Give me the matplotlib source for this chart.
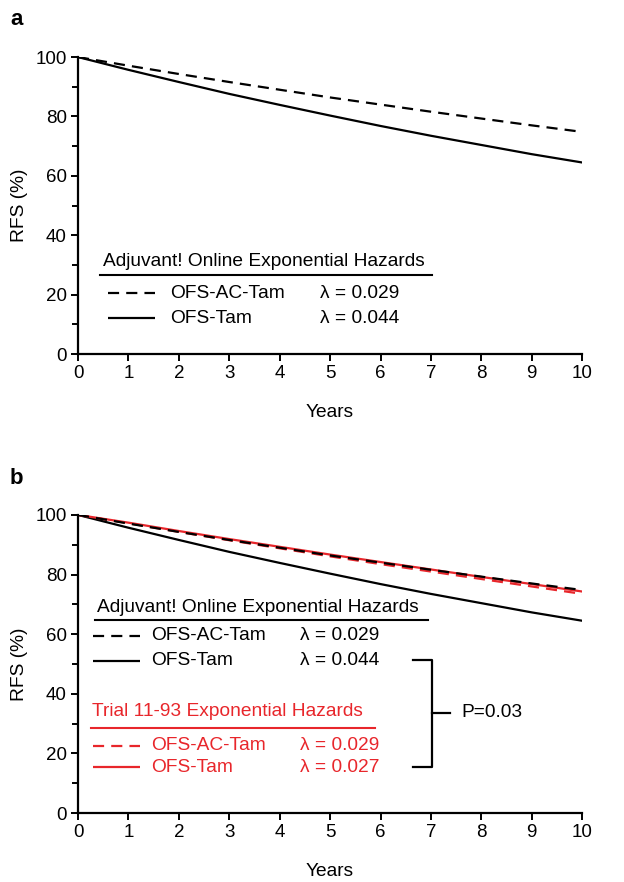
import numpy as np
import matplotlib
matplotlib.use("Agg")
import matplotlib.pyplot as plt

plt.rcParams['font.family'] = ['Liberation Sans', 'DejaVu Sans']

# values, one point per year
years = [0, 1, 2, 3, 4, 5, 6, 7, 8, 9, 10]
aol_ac_tam = [100, 97.1, 94.3, 91.6, 89.0, 86.4, 84.0, 81.6, 79.3, 77.0, 74.8]
aol_tam = [100, 95.7, 91.6, 87.6, 83.9, 80.3, 76.8, 73.5, 70.4, 67.3, 64.5]
trial_ac_tam = [100, 97.2, 94.3, 91.5, 88.8, 86.1, 83.5, 81.0, 78.5, 76.0, 73.5]
trial_tam = [100, 97.4, 94.6, 91.9, 89.3, 86.7, 84.2, 81.7, 79.2, 76.8, 74.3]

aol_title = "Adjuvant! Online Exponential Hazards"
trial_title = "Trial 11-93 Exponential Hazards"
arm_names = ["OFS-AC-Tam", "OFS-Tam"]
aol_lambda = ["λ = 0.029", "λ = 0.044"]
trial_lambda = ["λ = 0.029", "λ = 0.027"]
p_text = "P=0.03"

red = "#e8262b"
lw = 1.6
dash = (5, 3.2)
fs = 13.8

fig = plt.figure(figsize=(6.24, 8.82), dpi=100)
ax_a = fig.add_axes([0.125, 0.5986, 0.808, 0.3367])
ax_b = fig.add_axes([0.125, 0.0782, 0.808, 0.338])


def style(ax):
    ax.set_xlim(0, 10)
    ax.set_ylim(0, 100)
    ax.set_xticks(range(0, 11))
    ax.set_yticks([0, 20, 40, 60, 80, 100])
    ax.set_yticks([10, 30, 50, 70, 90], minor=True)
    for s in ["top", "right"]:
        ax.spines[s].set_visible(False)
    for s in ["left", "bottom"]:
        ax.spines[s].set_linewidth(1.6)
    ax.tick_params(axis="both", which="major", labelsize=13.5, width=1.4, length=5,
                   direction="out", pad=3)
    ax.tick_params(axis="y", which="minor", width=1.4, length=4, direction="out")
    ax.set_xlabel("Years", fontsize=13.8, labelpad=16)
    ax.set_ylabel("RFS (%)", fontsize=13.8)
    ax.yaxis.set_label_coords(-0.1, 0.5)


def legend_row(ax, x0, x1, xt, xl, y, name, lam, color, dashed):
    ln, = ax.plot([x0, x1], [y, y], color=color, lw=lw, clip_on=False,
                  solid_capstyle="butt")
    if dashed:
        ln.set_dashes(dash)
    ax.text(xt, y, name, color=color, fontsize=fs, va="center", ha="left")
    ax.text(xl, y, lam, color=color, fontsize=fs, va="center", ha="left")


# panel a
style(ax_a)
l, = ax_a.plot(years, aol_ac_tam, color="black", lw=lw)
l.set_dashes(dash)
ax_a.plot(years, aol_tam, color="black", lw=lw)
ax_a.text(0.5, 31, aol_title, fontsize=fs, va="center", ha="left")
ax_a.plot([0.44, 7.02], [26.6, 26.6], color="black", lw=1.5)
legend_row(ax_a, 0.6, 1.53, 1.83, 4.8, 20.5, arm_names[0], aol_lambda[0], "black", True)
legend_row(ax_a, 0.6, 1.53, 1.83, 4.8, 12.1, arm_names[1], aol_lambda[1], "black", False)

# panel b
style(ax_b)
l, = ax_b.plot(years, aol_ac_tam, color="black", lw=lw, zorder=3)
l.set_dashes(dash)
ax_b.plot(years, aol_tam, color="black", lw=lw)
l, = ax_b.plot(years, trial_ac_tam, color=red, lw=lw, zorder=2)
l.set_dashes(dash)
ax_b.plot(years, trial_tam, color=red, lw=lw, zorder=2)

ax_b.text(0.38, 69.1, aol_title, fontsize=fs, va="center", ha="left")
ax_b.plot([0.34, 6.94], [64.8, 64.8], color="black", lw=1.5)
legend_row(ax_b, 0.3, 1.23, 1.45, 4.4, 59.4, arm_names[0], aol_lambda[0], "black", True)
legend_row(ax_b, 0.3, 1.23, 1.45, 4.4, 51.0, arm_names[1], aol_lambda[1], "black", False)

ax_b.text(0.28, 33.9, trial_title, fontsize=fs, va="center", ha="left", color=red)
ax_b.plot([0.26, 5.9], [28.5, 28.5], color=red, lw=1.5)
legend_row(ax_b, 0.3, 1.23, 1.45, 4.4, 22.5, arm_names[0], trial_lambda[0], red, True)
legend_row(ax_b, 0.3, 1.23, 1.45, 4.4, 15.4, arm_names[1], trial_lambda[1], red, False)

# bracket
ax_b.plot([6.65, 7.02, 7.02, 6.65], [51.3, 51.3, 15.4, 15.4], color="black", lw=1.6)
ax_b.plot([7.02, 7.38], [33.6, 33.6], color="black", lw=1.6)
ax_b.text(7.6, 33.6, p_text, fontsize=fs, va="center", ha="left")

fig.text(0.016, 0.978, "a", fontsize=16, fontweight="bold", va="center", ha="left")
fig.text(0.016, 0.458, "b", fontsize=16, fontweight="bold", va="center", ha="left")

fig.savefig("out.png", dpi=100)
